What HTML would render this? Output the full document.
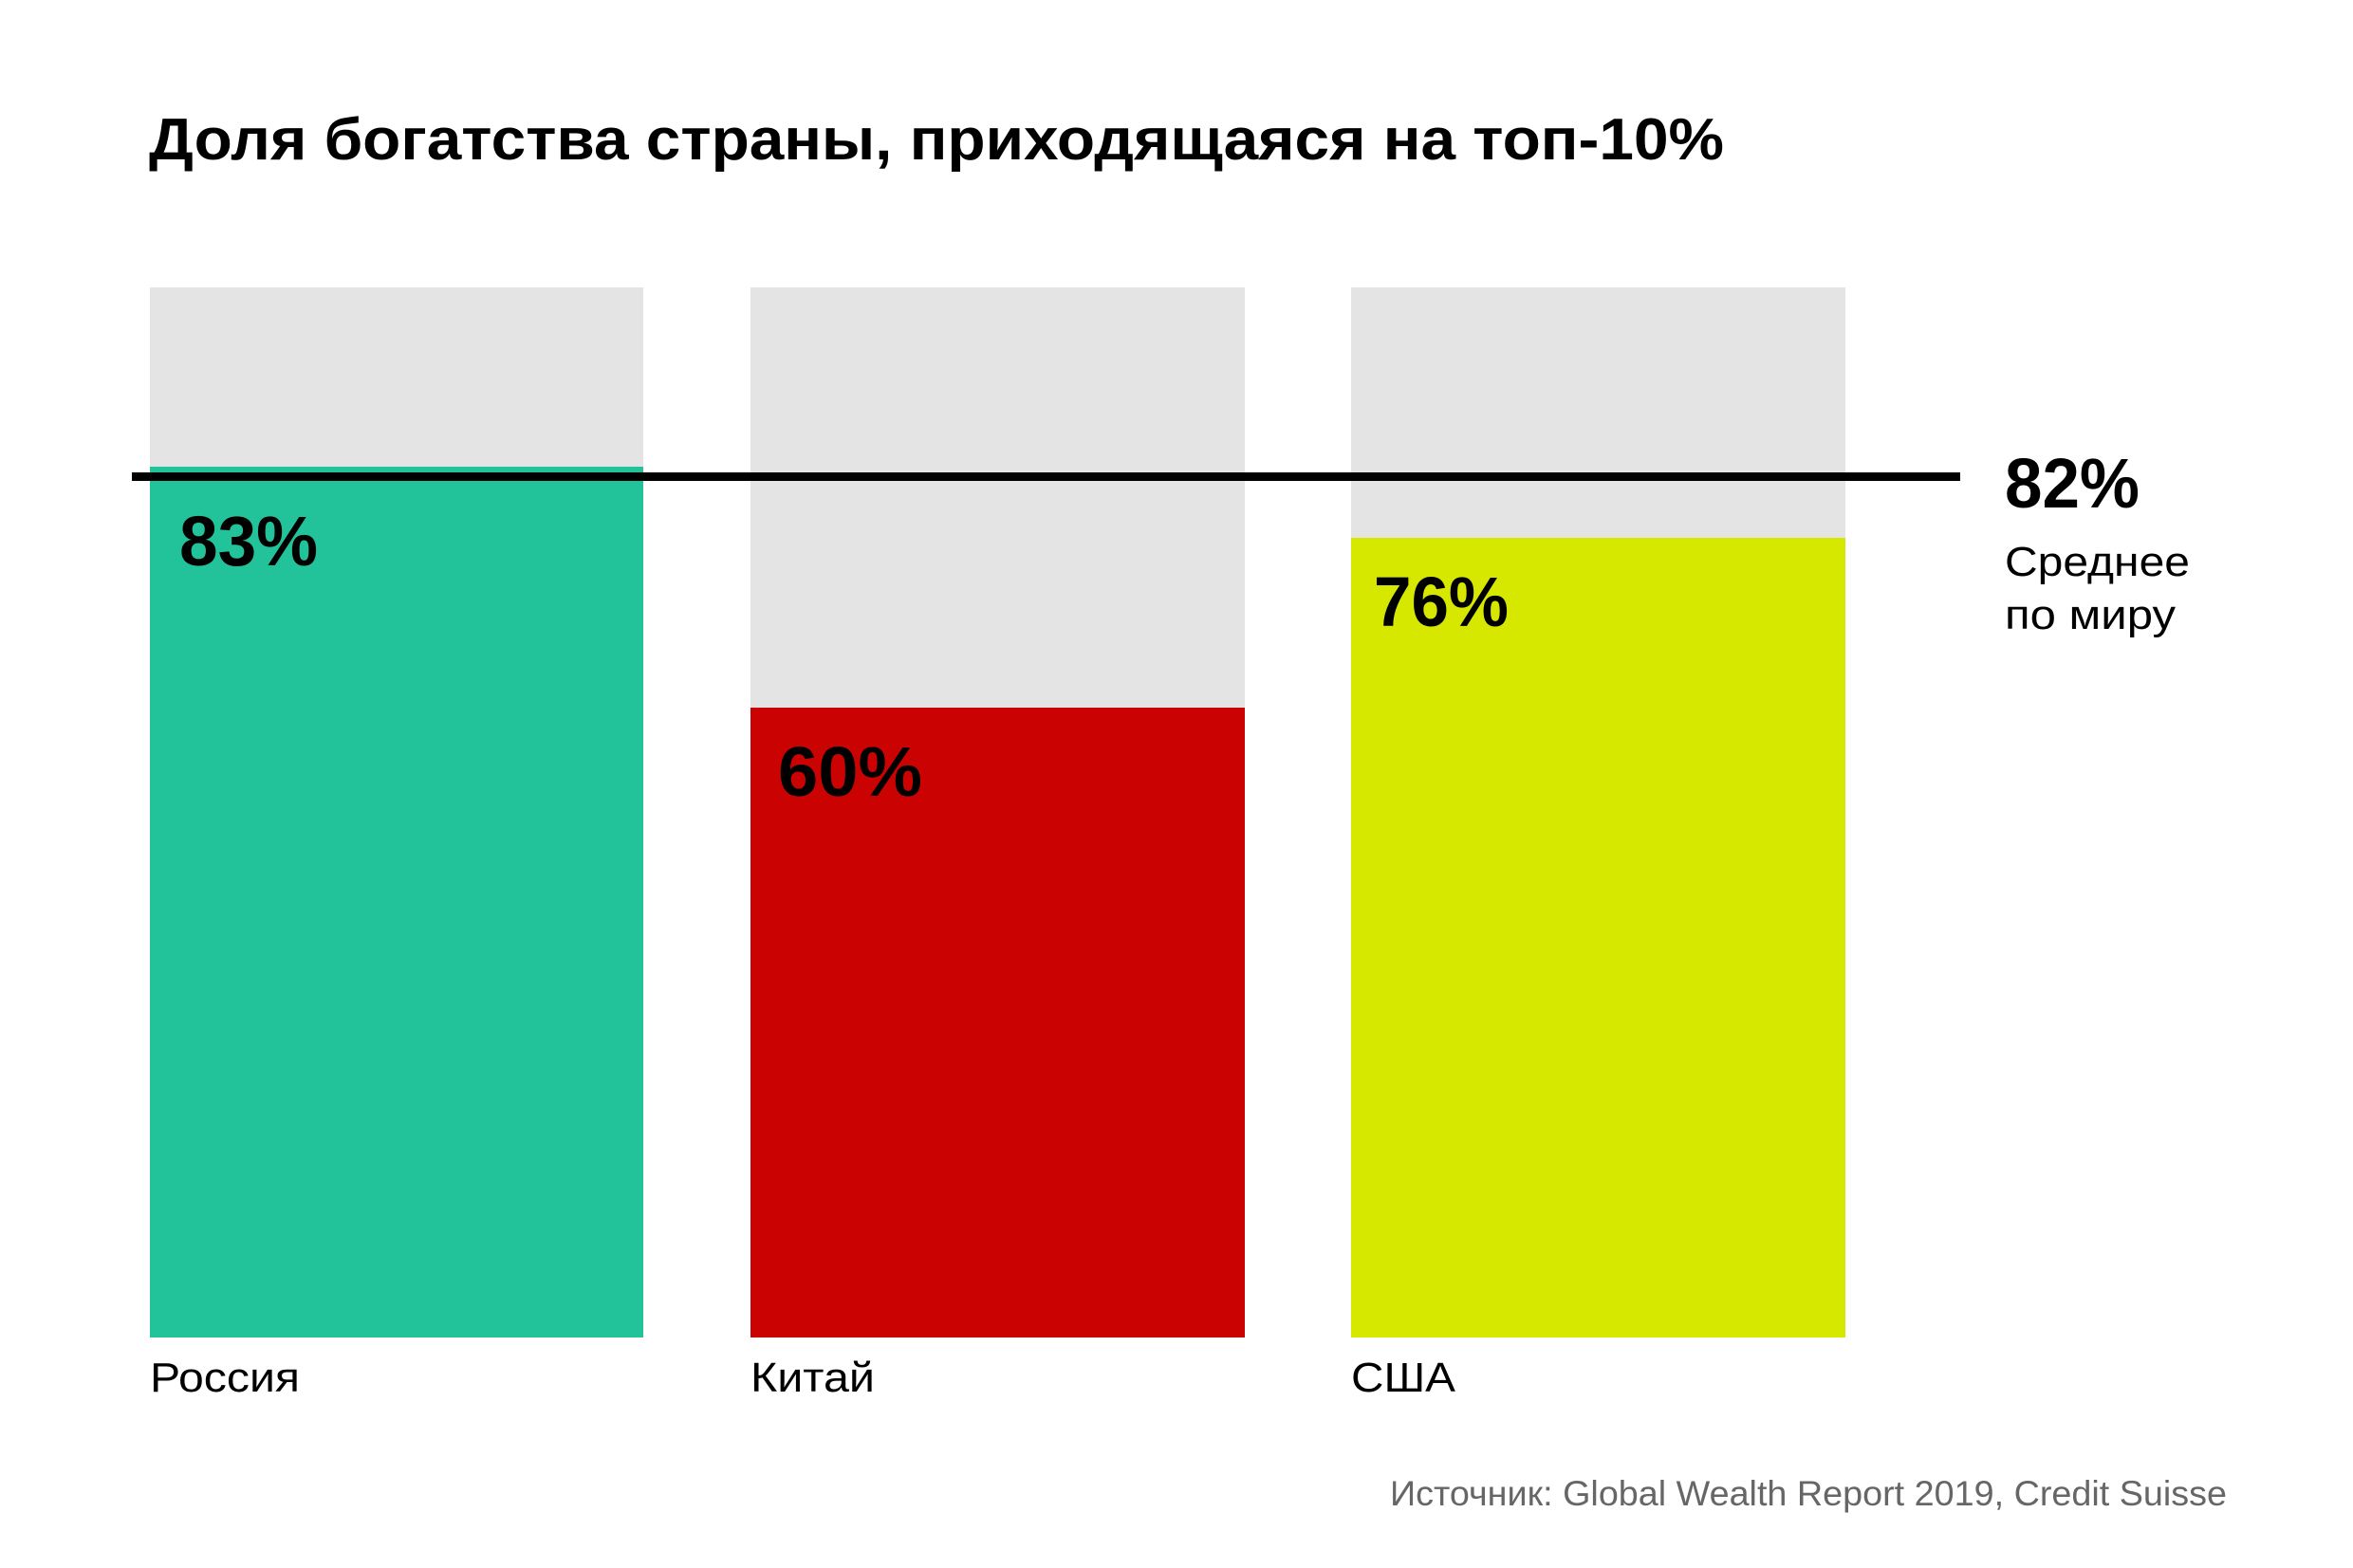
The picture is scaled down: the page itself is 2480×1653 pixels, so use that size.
<!DOCTYPE html>
<html><head><meta charset="utf-8"><style>
html,body{margin:0;padding:0;background:#fff}
svg{display:block}
text{font-family:"Liberation Sans","DejaVu Sans",sans-serif}
</style></head><body>
<svg width="2480" height="1653" viewBox="0 0 2480 1653" xmlns="http://www.w3.org/2000/svg">
<rect width="2480" height="1653" fill="#fff"/>
<text x="157" y="168" font-size="62" font-weight="bold" fill="#000" textLength="1660" lengthAdjust="spacingAndGlyphs">Доля богатства страны, приходящаяся на топ-10%</text>
<rect x="158" y="303" width="520" height="1107" fill="#e4e4e4"/>
<rect x="791" y="303" width="521" height="1107" fill="#e4e4e4"/>
<rect x="1424" y="303" width="521" height="1107" fill="#e4e4e4"/>
<rect x="158" y="492" width="520" height="918" fill="#22c39a"/>
<rect x="791" y="746" width="521" height="664" fill="#cb0202"/>
<rect x="1424" y="567" width="521" height="843" fill="#d7e800"/>
<rect x="139" y="498" width="1927" height="9" fill="#000"/>
<g font-weight="bold" font-size="74" fill="#000">
<text x="189" y="596" textLength="146" lengthAdjust="spacingAndGlyphs">83%</text>
<text x="820" y="839" textLength="152" lengthAdjust="spacingAndGlyphs">60%</text>
<text x="1448" y="660" textLength="142" lengthAdjust="spacingAndGlyphs">76%</text>
<text x="2113" y="535" textLength="142" lengthAdjust="spacingAndGlyphs">82%</text>
</g>
<g font-size="44" fill="#000">
<text x="2113" y="607" textLength="195" lengthAdjust="spacingAndGlyphs">Среднее</text>
<text x="2113" y="663" textLength="180" lengthAdjust="spacingAndGlyphs">по миру</text>
<text x="158" y="1467" textLength="158" lengthAdjust="spacingAndGlyphs">Россия</text>
<text x="791" y="1467" textLength="131" lengthAdjust="spacingAndGlyphs">Китай</text>
<text x="1424" y="1467" textLength="110" lengthAdjust="spacingAndGlyphs">США</text>
</g>
<text x="2347" y="1587" font-size="37" fill="#666" text-anchor="end" textLength="882" lengthAdjust="spacingAndGlyphs">Источник: Global Wealth Report 2019, Credit Suisse</text>
</svg>
</body></html>
